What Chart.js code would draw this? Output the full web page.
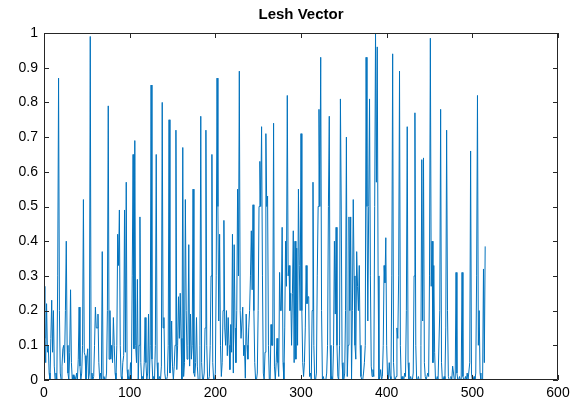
<!DOCTYPE html>
<html>
<head>
<meta charset="utf-8">
<script src="https://cdn.jsdelivr.net/npm/chart.js@4"></script>
<style>
html,body{margin:0;padding:0;background:#fff;}
#wrap{width:583px;height:410px;position:relative;}
</style>
</head>
<body>
<div id="wrap"><canvas id="c" width="583" height="410"></canvas></div>
<script>
const titleText = "Lesh Vector";
const xTicks = [0,100,200,300,400,500,600];
const yTicks = [0,0.1,0.2,0.3,0.4,0.5,0.6,0.7,0.8,0.9,1];
const leshValues = [
0.27,0.12,0.05,0.22,0.08,0.10,0.02,0.00,0.12,0.23,
0.08,0.20,0.04,0.00,0.02,0.00,0.30,0.87,0.20,0.02,
0.00,0.04,0.09,0.10,0.05,0.20,0.40,0.10,0.02,0.00,
0.08,0.26,0.05,0.00,0.015,0.00,0.01,0.00,0.02,0.00,
0.06,0.21,0.04,0.00,0.02,0.10,0.52,0.08,0.07,0.00,
0.06,0.09,0.00,0.02,0.99,0.00,0.02,0.00,0.01,0.10,
0.21,0.15,0.15,0.19,0.05,0.00,0.02,0.00,0.37,0.00,
0.01,0.00,0.00,0.02,0.20,0.79,0.06,0.20,0.06,0.10,
0.05,0.18,0.10,0.02,0.00,0.10,0.42,0.33,0.49,0.10,
0.01,0.00,0.05,0.07,0.49,0.08,0.57,0.03,0.00,0.01,
0.00,0.05,0.00,0.30,0.65,0.09,0.69,0.10,0.05,0.29,
0.00,0.10,0.47,0.05,0.00,0.01,0.00,0.05,0.18,0.05,
0.00,0.02,0.19,0.00,0.10,0.85,0.06,0.00,0.01,0.00,
0.10,0.65,0.05,0.00,0.00,0.01,0.00,0.04,0.80,0.15,
0.18,0.02,0.00,0.00,0.01,0.10,0.75,0.02,0.06,0.17,
0.04,0.00,0.04,0.10,0.72,0.03,0.10,0.24,0.12,0.25,
0.12,0.00,0.67,0.01,0.05,0.52,0.20,0.06,0.10,0.39,
0.04,0.19,0.06,0.10,0.55,0.02,0.01,0.05,0.18,0.04,
0.00,0.00,0.10,0.76,0.05,0.00,0.00,0.02,0.15,0.72,
0.10,0.00,0.00,0.01,0.10,0.30,0.65,0.05,0.00,0.00,
0.02,0.30,0.87,0.50,0.17,0.42,0.10,0.01,0.05,0.20,
0.46,0.15,0.10,0.20,0.07,0.18,0.10,0.03,0.16,0.08,
0.42,0.02,0.39,0.15,0.05,0.20,0.55,0.30,0.89,0.20,
0.12,0.12,0.21,0.07,0.10,0.005,0.19,0.10,0.06,0.15,
0.20,0.30,0.43,0.26,0.505,0.20,0.05,0.00,0.00,0.02,
0.20,0.50,0.63,0.50,0.73,0.30,0.02,0.00,0.08,0.71,
0.50,0.53,0.10,0.00,0.00,0.16,0.10,0.10,0.74,0.04,
0.00,0.05,0.12,0.05,0.01,0.31,0.20,0.20,0.44,0.05,
0.00,0.15,0.40,0.27,0.82,0.30,0.33,0.20,0.25,0.10,
0.25,0.43,0.05,0.40,0.06,0.38,0.10,0.55,0.33,0.20,
0.71,0.20,0.05,0.01,0.05,0.15,0.33,0.22,0.24,0.24,
0.01,0.02,0.00,0.20,0.57,0.10,0.00,0.00,0.02,0.30,
0.50,0.78,0.50,0.93,0.20,0.00,0.01,0.00,0.00,0.00,
0.02,0.10,0.50,0.76,0.10,0.00,0.01,0.00,0.10,0.40,
0.19,0.44,0.10,0.01,0.00,0.10,0.81,0.49,0.05,0.00,
0.00,0.02,0.20,0.70,0.01,0.10,0.47,0.20,0.47,0.00,
0.20,0.52,0.30,0.10,0.06,0.37,0.27,0.20,0.33,0.10,
0.01,0.00,0.00,0.02,0.05,0.10,0.93,0.50,0.17,0.50,
0.81,0.30,0.04,0.01,0.03,0.01,0.50,1.00,0.57,0.96,
0.30,0.00,0.01,0.03,0.00,0.01,0.10,0.33,0.28,0.41,
0.10,0.01,0.00,0.05,0.01,0.00,0.30,0.94,0.05,0.00,
0.00,0.01,0.15,0.12,0.30,0.89,0.10,0.00,0.01,0.00,
0.00,0.02,0.01,0.20,0.73,0.05,0.00,0.00,0.01,0.00,
0.00,0.02,0.30,0.77,0.10,0.00,0.00,0.01,0.00,0.00,
0.10,0.635,0.17,0.64,0.05,0.01,0.00,0.00,0.02,0.01,
0.30,0.985,0.27,0.40,0.05,0.33,0.08,0.00,0.00,0.01,
0.00,0.00,0.20,0.78,0.05,0.00,0.00,0.01,0.00,0.15,
0.72,0.20,0.01,0.00,0.00,0.01,0.00,0.04,0.02,0.00,
0.00,0.31,0.02,0.00,0.00,0.01,0.00,0.00,0.31,0.01,
0.00,0.00,0.01,0.00,0.02,0.00,0.00,0.05,0.66,0.02,
0.00,0.00,0.01,0.00,0.02,0.30,0.82,0.10,0.20,0.02,
0.00,0.00,0.00,0.32,0.05,0.385
];

const points = leshValues.map((v,i)=>({x:i,y:v}));
const FONT = "'Liberation Sans', Arial, Helvetica, sans-serif";

const boxPlugin = {
  id:'boxPlugin',
  afterDraw(chart){
    const {ctx, chartArea:a, scales:{x,y}} = chart;
    ctx.save();
    ctx.strokeStyle = '#262626';
    ctx.lineWidth = 1;
    ctx.beginPath();
    ctx.rect(a.left+0.5, a.top+0.5, a.right-a.left-1, a.bottom-a.top-1);
    ctx.stroke();
    const L = 5;
    ctx.beginPath();
    xTicks.forEach(t=>{
      const px = Math.round(x.getPixelForValue(t))+0.5;
      ctx.moveTo(px,a.bottom); ctx.lineTo(px,a.bottom-L);
      ctx.moveTo(px,a.top); ctx.lineTo(px,a.top+L);
    });
    yTicks.forEach(t=>{
      const py = Math.round(y.getPixelForValue(t))+0.5;
      ctx.moveTo(a.left,py); ctx.lineTo(a.left+L,py);
      ctx.moveTo(a.right,py); ctx.lineTo(a.right-L,py);
    });
    ctx.stroke();
    ctx.fillStyle = '#000';
    ctx.font = "bold 15px " + FONT;
    ctx.textAlign = 'center';
    ctx.textBaseline = 'middle';
    ctx.fillText(titleText, (a.left+a.right)/2, 15);
    ctx.restore();
  }
};

new Chart(document.getElementById('c'), {
  type:'line',
  data:{datasets:[{
    data: points,
    borderColor:'#0072BD',
    borderWidth:1,
    pointRadius:0,
    tension:0,
    fill:false
  }]},
  options:{
    responsive:false,
    animation:false,
    layout:{padding:{top:33,right:25,left:0,bottom:0}},
    plugins:{legend:{display:false},tooltip:{enabled:false},title:{display:false}},
    scales:{
      x:{
        type:'linear', min:0, max:600,
        afterBuildTicks(s){ s.ticks = xTicks.map(v=>({value:v})); },
        afterFit(s){ s.height = 30; },
        grid:{display:false, drawTicks:false},
        border:{display:false},
        ticks:{color:'#000', font:{family:FONT,size:14}, padding:5, maxRotation:0, autoSkip:false,
          callback:v=>String(v)}
      },
      y:{
        type:'linear', min:0, max:1,
        afterBuildTicks(s){ s.ticks = yTicks.map(v=>({value:v})); },
        afterFit(s){ s.width = 44; },
        grid:{display:false, drawTicks:false},
        border:{display:false},
        ticks:{color:'#000', font:{family:FONT,size:14}, padding:6, autoSkip:false,
          callback:v=>String(+v.toFixed(1))}
      }
    }
  },
  plugins:[boxPlugin]
});
</script>
</body>
</html>
